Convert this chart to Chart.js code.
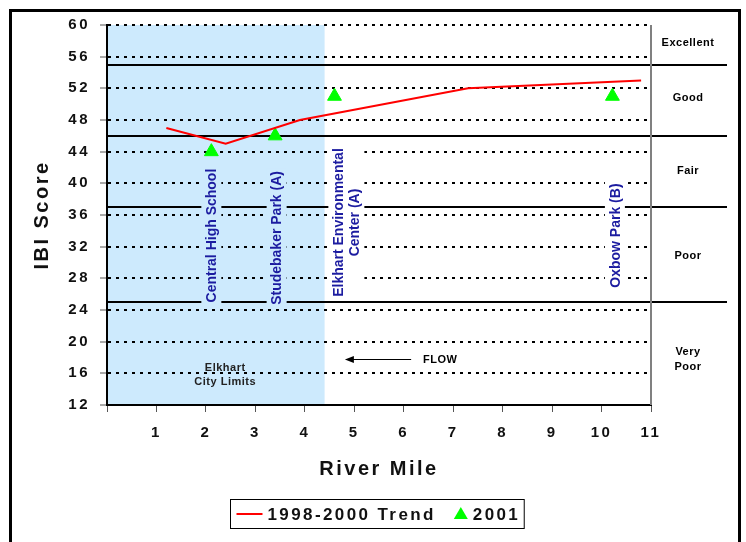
<!DOCTYPE html>
<html>
<head>
<meta charset="utf-8">
<script src="https://cdn.jsdelivr.net/npm/chart.js@4.4.1/dist/chart.umd.min.js"></script>
<style>
  html, body { margin: 0; padding: 0; background: #fff; }
  canvas { display: block; }
</style>
</head>
<body>
<canvas id="ibiChart" width="746" height="542"></canvas>
<script>
// data
const trendMiles = [1.2, 2.4, 3.9, 7.3, 10.8];
const trendScores = [47, 45, 48, 52, 53];
const miles2001 = [2.11, 3.4, 4.6, 10.22];
const scores2001 = [44, 46, 51, 51];
const siteNames = ['Central High School', 'Studebaker Park (A)', ['Elkhart Environmental', 'Center (A)'], 'Oxbow Park (B)'];
const ratingBreaks = [55, 46, 37, 25];
const ratingNames = ['Excellent', 'Good', 'Fair', 'Poor', ['Very', 'Poor']];
const cityLimitMile = 4.4;
const xTickLabels = ['', '1', '2', '3', '4', '5', '6', '7', '8', '9', '10', '11'];
const yTickLabels = ['12', '16', '20', '24', '28', '32', '36', '40', '44', '48', '52', '56', '60'];

// where the annotation text sits, in axis units
const siteLabelPos = [[2.11, 33.4], [3.43, 33.1], [4.84, 35.05], [10.27, 33.4]];
const ratingLabelY = [57.7, 50.8, 41.6, 30.8, 17.7];

const FONT = '"Liberation Sans", Arial, sans-serif';
const SITE_BLUE = '#1c1ca0';
const CITY_FILL = '#cdeafd';

function drawLines(ctx, lines, x, y, lh) {
    const n = lines.length;
    lines.forEach((t, i) => ctx.fillText(t, x, y + (i - (n - 1) / 2) * lh));
}

const ibiDecor = {
    id: 'ibiDecor',
    beforeUpdate(chart) {
        chart.ctx.letterSpacing = '2.5px';
    },
    beforeDraw(chart) {
        const {ctx, chartArea: a, scales: {x}} = chart;
        ctx.save();
        ctx.fillStyle = CITY_FILL;
        ctx.fillRect(a.left, a.top, x.getPixelForValue(cityLimitMile) - a.left, a.bottom - a.top);
        ctx.restore();
    },
    beforeDatasetsDraw(chart) {
        const {ctx, chartArea: a, scales: {x, y}} = chart;
        const edge = x.getPixelForValue(cityLimitMile);
        ctx.save();
        ctx.letterSpacing = '0px';

        // rating boundaries
        ctx.strokeStyle = '#000';
        ctx.lineWidth = 2;
        ratingBreaks.forEach(v => {
            const py = Math.round(y.getPixelForValue(v));
            ctx.beginPath();
            ctx.moveTo(a.left, py);
            ctx.lineTo(a.right + 76, py);
            ctx.stroke();
        });

        // right edge of plot
        ctx.strokeStyle = '#808080';
        ctx.beginPath();
        ctx.moveTo(a.right, a.top);
        ctx.lineTo(a.right, a.bottom);
        ctx.stroke();

        // site names, rotated
        ctx.font = 'bold 14px ' + FONT;
        ctx.textAlign = 'center';
        ctx.textBaseline = 'middle';
        siteNames.forEach((name, i) => {
            const lines = Array.isArray(name) ? name : [name];
            const px = x.getPixelForValue(siteLabelPos[i][0]);
            const py = y.getPixelForValue(siteLabelPos[i][1]);
            const w = Math.max(...lines.map(t => ctx.measureText(t).width)) + 6;
            const h = lines.length * 16 + 4;
            ctx.save();
            ctx.translate(px, py);
            ctx.rotate(-Math.PI / 2);
            ctx.fillStyle = px < edge ? CITY_FILL : '#fff';
            ctx.fillRect(-w / 2, -h / 2, w, h);
            ctx.fillStyle = SITE_BLUE;
            drawLines(ctx, lines, 0, 1, 16);
            ctx.restore();
        });

        // city limits note
        ctx.font = 'bold 11px ' + FONT;
        ctx.letterSpacing = '0.5px';
        ctx.fillStyle = '#222';
        drawLines(ctx, ['Elkhart', 'City Limits'], x.getPixelForValue(2.39), y.getPixelForValue(15.8), 14);

        // flow arrow
        const ay = Math.round(y.getPixelForValue(17.8)) + 0.5;
        const ax0 = x.getPixelForValue(4.81), ax1 = x.getPixelForValue(6.15);
        ctx.strokeStyle = '#000';
        ctx.lineWidth = 1;
        ctx.beginPath();
        ctx.moveTo(ax0 + 6, ay);
        ctx.lineTo(ax1, ay);
        ctx.stroke();
        ctx.fillStyle = '#000';
        ctx.beginPath();
        ctx.moveTo(ax0, ay);
        ctx.lineTo(ax0 + 9, ay - 3.5);
        ctx.lineTo(ax0 + 9, ay + 3.5);
        ctx.closePath();
        ctx.fill();
        ctx.textAlign = 'left';
        ctx.fillText('FLOW', x.getPixelForValue(6.39), ay);

        // rating names on the right
        ctx.textAlign = 'center';
        ratingNames.forEach((name, i) => {
            const lines = Array.isArray(name) ? name : [name];
            drawLines(ctx, lines, a.right + 37, y.getPixelForValue(ratingLabelY[i]), 15);
        });
        ctx.restore();
    },
    afterDraw(chart) {
        const {ctx, chartArea: a} = chart;
        ctx.save();
        // outer frame
        ctx.strokeStyle = '#000';
        ctx.lineWidth = 3;
        ctx.beginPath();
        ctx.moveTo(10.5, 542);
        ctx.lineTo(10.5, 10.5);
        ctx.lineTo(739.5, 10.5);
        ctx.lineTo(739.5, 542);
        ctx.stroke();

        // legend
        const ds = chart.data.datasets;
        ctx.font = 'bold 17px ' + FONT;
        ctx.letterSpacing = '2.4px';
        const w0 = ctx.measureText(ds[0].label).width;
        const w1 = ctx.measureText(ds[1].label).width;
        const boxW = 6 + 26 + 5 + w0 + 18 + 14 + 5 + w1 + 4;
        const boxH = 29;
        const bx = Math.round((a.left + a.right) / 2 - boxW / 2) - 1.5;
        const by = 499.5;
        ctx.fillStyle = '#fff';
        ctx.fillRect(bx, by, boxW, boxH);
        ctx.strokeStyle = '#000';
        ctx.lineWidth = 1;
        ctx.strokeRect(bx, by, boxW, boxH);
        const my = by + boxH / 2;
        ctx.strokeStyle = ds[0].borderColor;
        ctx.lineWidth = 2;
        ctx.beginPath();
        ctx.moveTo(bx + 6, my);
        ctx.lineTo(bx + 32, my);
        ctx.stroke();
        ctx.fillStyle = '#111';
        ctx.textAlign = 'left';
        ctx.textBaseline = 'middle';
        let tx = bx + 37;
        ctx.fillText(ds[0].label, tx, my + 1);
        tx += w0 + 18;
        ctx.fillStyle = ds[1].backgroundColor;
        ctx.beginPath();
        ctx.moveTo(tx + 7, my - 7);
        ctx.lineTo(tx + 14, my + 5);
        ctx.lineTo(tx, my + 5);
        ctx.closePath();
        ctx.fill();
        ctx.fillStyle = '#111';
        ctx.fillText(ds[1].label, tx + 19, my + 1);
        ctx.restore();
    }
};

const ctx = document.getElementById('ibiChart').getContext('2d');
const ibiChart = new Chart(ctx, {
    type: 'scatter',
    data: {
        datasets: [{
            label: '1998-2000 Trend',
            data: trendMiles.map((m, i) => ({x: m, y: trendScores[i]})),
            showLine: true,
            borderColor: '#ff0000',
            borderWidth: 2,
            pointRadius: 0,
            tension: 0
        }, {
            label: '2001',
            data: miles2001.map((m, i) => ({x: m, y: scores2001[i]})),
            showLine: false,
            pointStyle: 'triangle',
            pointRadius: 8,
            backgroundColor: '#00ff00',
            borderColor: '#00ff00',
            borderWidth: 1
        }]
    },
    options: {
        responsive: false,
        animation: false,
        events: [],
        layout: { padding: { left: 0, top: 25, right: 95, bottom: 0 } },
        plugins: { legend: { display: false }, tooltip: { enabled: false } },
        scales: {
            x: {
                type: 'linear',
                min: 0,
                max: 11,
                afterFit(scale) { scale.height = 137; },
                ticks: {
                    stepSize: 1,
                    padding: 12,
                    color: '#111',
                    font: { family: FONT, size: 15, weight: 'bold' },
                    callback: (v, i) => xTickLabels[i]
                },
                grid: {
                    drawOnChartArea: false,
                    tickLength: 7,
                    tickColor: '#555',
                    tickWidth: 1
                },
                border: { color: '#000', width: 2 },
                title: {
                    display: true,
                    text: 'River Mile',
                    color: '#111',
                    font: { family: FONT, size: 20, weight: 'bold' },
                    padding: { top: 0, bottom: 61 }
                }
            },
            y: {
                min: 12,
                max: 60,
                afterFit(scale) { scale.width = 107; },
                ticks: {
                    stepSize: 4,
                    padding: 10,
                    color: '#111',
                    font: { family: FONT, size: 15, weight: 'bold' },
                    callback: (v, i) => yTickLabels[i]
                },
                grid: {
                    color: '#000',
                    lineWidth: 2,
                    tickBorderDash: [],
                    tickColor: '#555',
                    tickWidth: 1,
                    tickLength: 7
                },
                // in v4 the dash here styles the grid lines, not the axis line
                border: { color: '#000', width: 2, dash: [3, 5] },
                title: {
                    display: true,
                    text: 'IBI Score',
                    color: '#111',
                    font: { family: FONT, size: 20, weight: 'bold' },
                    padding: { top: 30, bottom: 0 }
                }
            }
        }
    },
    plugins: [ibiDecor]
});
</script>
</body>
</html>
